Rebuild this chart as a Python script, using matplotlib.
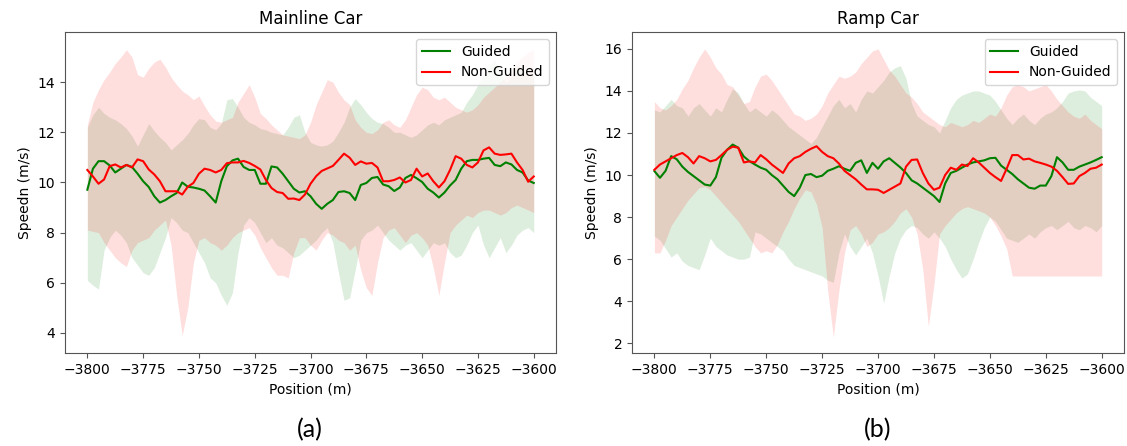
import numpy as np
import matplotlib
matplotlib.use("Agg")
import matplotlib.pyplot as plt

# ---------------- data ----------------
positions = np.linspace(-3800, -3600, 81)

# Mainline car
main_guided = [9.71, 10.55, 10.85, 10.85, 10.68, 10.4, 10.55, 10.7, 10.62, 10.35,
               10.05, 9.82, 9.45, 9.2, 9.3, 9.45, 9.58, 10.0, 9.83, 9.8,
               9.75, 9.68, 9.45, 9.2, 10.05, 10.65, 10.88, 10.95, 10.62, 10.5,
               10.5, 9.95, 9.95, 10.64, 10.6, 10.35, 10.05, 9.75, 9.6, 9.65,
               9.45, 9.15, 8.95, 9.15, 9.3, 9.62, 9.65, 9.58, 9.3, 9.9,
               9.98, 10.18, 10.22, 9.92, 9.85, 9.66, 9.8, 10.18, 10.3, 10.17,
               10.02, 9.75, 9.6, 9.4, 9.6, 9.88, 10.1, 10.55, 10.85, 10.9,
               10.9, 10.95, 10.98, 10.7, 10.65, 10.8, 10.72, 10.5, 10.4, 10.08,
               9.98]
main_nonguided = [10.5, 10.24, 9.95, 10.12, 10.65, 10.72, 10.6, 10.7, 10.6, 10.92,
                  10.85, 10.52, 10.32, 10.05, 9.65, 9.65, 9.65, 9.52, 9.83, 9.98,
                  10.35, 10.55, 10.5, 10.4, 10.5, 10.77, 10.8, 10.8, 10.86, 10.78,
                  10.66, 10.52, 10.1, 9.78, 9.62, 9.58, 9.35, 9.36, 9.3, 9.52,
                  9.95, 10.25, 10.46, 10.56, 10.66, 10.9, 11.15, 10.99, 10.7, 10.84,
                  10.75, 10.78, 10.6, 10.05, 10.05, 10.1, 10.2, 10.0, 10.1, 10.55,
                  10.24, 10.36, 10.05, 9.8, 10.05, 10.5, 11.05, 10.95, 10.7, 10.6,
                  10.8, 11.28, 11.4, 11.15, 11.1, 11.12, 11.15, 10.8, 10.5, 10.03,
                  10.24]
main_guided_upper = [12.2, 12.7, 13.0, 12.75, 12.6, 12.5, 12.35, 12.15, 11.85, 11.45,
                     11.9, 12.35, 12.05, 11.8, 11.6, 11.3, 11.5, 11.7, 11.95, 12.3,
                     12.55, 12.5, 12.2, 12.1, 12.35, 13.3, 13.35, 13.0, 12.6, 12.4,
                     12.3, 12.15, 12.1, 12.0, 11.95, 11.9, 12.2, 12.6, 12.7, 12.0,
                     11.6, 11.5, 11.45, 11.5, 11.65, 12.0, 12.4, 13.0, 13.35, 13.1,
                     12.8, 12.55, 12.4, 12.35, 12.2, 12.0, 12.0, 11.9, 11.8, 11.9,
                     12.1, 12.3, 12.4, 12.3, 12.5, 12.6, 12.7, 12.8, 13.2, 13.5,
                     13.9, 14.3, 14.6, 14.9, 14.3, 14.0, 14.2, 14.7, 14.5, 14.2,
                     14.3]
main_guided_lower = [6.1, 5.9, 5.75, 7.3, 7.8, 8.1, 7.9, 7.6, 7.0, 6.7,
                     6.4, 6.3, 6.6, 7.2, 7.8, 8.6, 8.4, 8.1, 8.0, 7.6,
                     7.2, 6.8, 6.2, 6.0, 5.5, 5.1, 5.6, 7.2, 8.3, 8.6,
                     8.4, 8.0, 7.6, 7.8, 7.5, 7.4, 7.2, 7.0, 7.1, 7.3,
                     7.5, 7.7, 8.0, 8.2, 7.6, 6.4, 5.3, 5.4, 6.5, 7.7,
                     8.0, 8.1, 8.3, 8.0, 7.7, 7.5, 7.3, 7.5, 7.6, 7.3,
                     7.0, 7.3, 7.6, 7.5, 7.6, 7.2, 7.0, 7.1, 7.5, 8.0,
                     8.3, 7.5, 7.0, 7.4, 7.8, 7.2, 7.5, 7.9, 8.1, 8.2,
                     8.0]
main_nonguided_upper = [12.3, 13.2, 13.7, 14.1, 14.4, 14.75, 15.0, 15.3, 15.0, 14.3,
                        14.2, 14.55, 14.8, 14.92, 14.6, 14.2, 13.9, 13.65, 13.5, 13.3,
                        13.45, 13.05, 12.7, 12.45, 12.4, 12.5, 12.6, 13.2, 13.55, 13.9,
                        13.4, 12.75, 12.55, 12.3, 12.1, 11.9, 11.85, 11.8, 11.75, 11.9,
                        12.4, 13.1, 13.6, 14.1, 14.0, 13.6, 13.3, 13.1, 12.5, 12.2,
                        12.0, 11.95, 12.1, 12.4, 12.5, 12.3, 12.2, 12.5, 13.0, 13.5,
                        13.8, 13.7, 13.4, 13.3, 13.4, 13.2, 13.0, 12.9, 12.8, 12.9,
                        13.1, 13.4, 13.6, 13.8, 14.0, 14.2, 14.5, 14.8, 15.0, 15.2,
                        15.3]
main_nonguided_lower = [8.1, 8.05, 8.0, 7.6, 7.3, 7.0, 6.8, 6.65, 7.3, 7.6,
                        7.7, 7.8, 8.1, 8.3, 8.5, 7.5, 5.5, 3.9, 5.0, 6.8,
                        7.7, 7.8, 7.6, 7.5, 7.3, 7.5, 7.8, 8.0, 8.1, 8.2,
                        7.9, 7.4, 7.0, 6.6, 6.3, 6.3, 6.2, 7.2, 7.8, 7.8,
                        7.5, 7.3, 7.7, 8.0, 7.9, 7.7, 7.6, 7.3, 7.5, 6.5,
                        5.8, 5.5, 6.8, 7.8, 8.1, 8.2, 7.9, 7.6, 7.9, 8.0,
                        7.8, 7.5, 6.6, 5.5, 6.8, 8.0, 8.3, 8.5, 8.7, 8.6,
                        8.8, 8.9, 8.9, 8.8, 8.7, 8.8, 9.0, 9.1, 9.0, 8.9,
                        8.8]

# Ramp car
ramp_guided = [10.19, 9.87, 10.2, 10.9, 10.75, 10.4, 10.15, 9.95, 9.75, 9.55,
               9.5, 9.9, 10.82, 11.2, 11.45, 11.3, 10.88, 10.66, 10.5, 10.35,
               10.25, 10.0, 9.8, 9.5, 9.2, 9.0, 9.4, 10.0, 10.05, 9.9,
               9.97, 10.2, 10.3, 10.42, 10.3, 10.2, 10.58, 10.7, 10.1, 10.58,
               10.3, 10.65, 10.8, 10.58, 10.36, 10.1, 9.75, 9.6, 9.4, 9.2,
               9.0, 8.72, 9.6, 10.1, 10.2, 10.35, 10.5, 10.6, 10.65, 10.7,
               10.8, 10.82, 10.45, 10.25, 10.05, 9.8, 9.6, 9.4, 9.35, 9.5,
               9.5, 9.95, 10.85, 10.6, 10.25, 10.25, 10.4, 10.5, 10.6, 10.72,
               10.85]
ramp_nonguided = [10.25, 10.5, 10.65, 10.8, 10.95, 11.05, 10.85, 10.55, 10.9, 10.8,
                  10.65, 10.72, 10.95, 11.2, 11.35, 11.3, 10.6, 10.65, 10.6, 10.95,
                  10.75, 10.5, 10.3, 10.1, 10.55, 10.8, 10.9, 11.1, 11.25, 11.37,
                  11.1, 10.9, 10.8, 10.55, 10.2, 10.0, 9.8, 9.55, 9.32, 9.32,
                  9.3, 9.15, 9.3, 9.45, 9.6, 10.4, 10.72, 10.74, 10.1, 9.6,
                  9.3, 9.4, 10.0, 10.35, 10.25, 10.5, 10.43, 10.8, 10.6, 10.35,
                  10.1, 9.9, 9.72, 10.3, 10.95, 10.95, 10.74, 10.78, 10.65, 10.58,
                  10.5, 10.4, 10.2, 9.9, 9.58, 9.6, 9.95, 10.1, 10.3, 10.35,
                  10.5]
ramp_guided_upper = [13.1, 13.0, 13.3, 13.6, 13.3, 13.2, 12.8, 13.2, 13.4, 13.1,
                     12.8, 13.2, 13.0, 13.6, 14.1, 13.9, 13.4, 13.0, 13.2, 13.0,
                     12.8, 13.1, 12.9, 12.6, 12.3, 12.1, 11.9, 11.7, 11.5, 11.8,
                     12.3, 12.8, 13.3, 13.6, 13.2, 13.4, 13.0, 13.6, 14.0, 13.9,
                     14.2, 14.5, 14.9, 15.1, 15.2, 14.6, 13.4, 12.8, 12.6, 12.4,
                     12.3, 12.0, 12.6, 13.2, 13.6, 13.8, 13.9, 14.0, 14.0, 13.9,
                     13.8, 13.5, 13.1, 12.7, 12.4, 12.7, 12.9, 12.6, 12.4, 12.7,
                     12.9, 13.0, 13.2, 13.5, 13.9, 14.0, 14.05, 14.0, 13.7, 13.5,
                     13.3]
ramp_guided_lower = [7.1, 6.9, 6.5, 6.1, 6.3, 5.9, 5.7, 5.6, 5.5, 6.2,
                     7.0, 6.6, 6.4, 6.2, 6.1, 6.0, 6.0, 6.1, 7.3, 7.2,
                     7.0, 6.8, 6.6, 6.4, 6.0, 5.7, 5.6, 5.5, 5.4, 5.3,
                     5.2, 5.0, 4.9, 6.3, 7.2, 6.6, 6.2, 6.6, 7.0, 6.3,
                     5.2, 3.9, 5.2, 6.3, 7.0, 7.4, 7.6, 7.5, 7.2, 7.0,
                     7.3, 7.0, 6.6, 6.0, 5.5, 5.1, 5.3, 6.0, 6.8, 7.5,
                     8.0, 7.8, 7.4, 7.0, 6.9, 6.8, 7.0, 7.2, 7.0, 7.3,
                     7.5, 7.6, 7.4, 7.6, 7.8, 7.5, 7.4, 7.6, 7.5, 7.3,
                     7.6]
ramp_nonguided_upper = [13.5, 13.2, 13.1, 13.3, 13.6, 14.1, 14.5, 15.1, 15.6, 16.0,
                        15.6, 15.1, 14.8, 14.3, 14.2, 13.8, 13.4, 13.5, 14.2, 14.7,
                        14.8, 14.5, 14.1, 13.7, 13.3, 12.9, 12.8, 12.6, 12.7, 12.9,
                        13.3, 13.9, 14.3, 14.7, 14.6, 14.7, 14.9, 15.3, 15.6, 15.9,
                        16.0, 15.5, 15.0, 14.7, 14.3, 13.9, 13.7, 13.4, 13.0, 12.8,
                        12.6, 12.4, 12.3, 12.5, 12.4, 12.3, 12.4, 12.6, 12.5, 12.7,
                        12.9, 12.8, 13.2, 13.8, 14.2, 14.3, 14.2, 14.0, 14.1, 14.2,
                        14.3, 14.0, 13.6, 13.3, 13.0, 12.8, 12.7, 12.9, 12.6, 12.4,
                        12.2]
ramp_nonguided_lower = [6.3, 6.3, 6.9, 7.6, 8.0, 8.4, 8.8, 9.1, 9.4, 9.45,
                        9.3, 9.0, 8.7, 8.4, 8.1, 7.8, 7.4, 7.0, 6.6, 6.3,
                        6.4, 6.3, 6.7, 7.3, 7.8, 8.4, 8.9, 9.3, 9.2, 8.6,
                        7.5, 4.5, 2.3, 4.5, 6.3, 7.4, 7.6, 7.2, 6.6, 6.8,
                        7.2, 7.3, 7.5, 7.8, 8.2, 8.4, 8.0, 7.2, 5.5, 2.8,
                        4.8, 7.2, 7.6, 7.9, 8.2, 8.4, 8.5, 8.4, 8.3, 8.2,
                        8.0, 7.6, 7.1, 6.5, 5.2, 5.2, 5.2, 5.2, 5.2, 5.2,
                        5.2, 5.2, 5.2, 5.2, 5.2, 5.2, 5.2, 5.2, 5.2, 5.2,
                        5.2]

xticks = [-3800, -3775, -3750, -3725, -3700, -3675, -3650, -3625, -3600]
titles = ["Mainline Car", "Ramp Car"]
captions = ["(a)", "(b)"]

# ---------------- figure ----------------
fig = plt.figure(figsize=(11.27, 4.46), dpi=100)
ax1 = fig.add_axes([0.0577, 0.2085, 0.4357, 0.7197])
ax2 = fig.add_axes([0.5608, 0.2085, 0.4366, 0.7197])

panels = [
    (ax1, main_guided, main_guided_lower, main_guided_upper,
     main_nonguided, main_nonguided_lower, main_nonguided_upper,
     [4, 6, 8, 10, 12, 14], (3.2, 16.0)),
    (ax2, ramp_guided, ramp_guided_lower, ramp_guided_upper,
     ramp_nonguided, ramp_nonguided_lower, ramp_nonguided_upper,
     [2, 4, 6, 8, 10, 12, 14, 16], (1.54, 16.8)),
]

for i, (ax, g, gl, gu, r, rl, ru, yt, yl) in enumerate(panels):
    ax.fill_between(positions, gl, gu, color="green", alpha=0.13, linewidth=0)
    ax.fill_between(positions, rl, ru, color="red", alpha=0.13, linewidth=0)
    ax.plot(positions, g, color="green", lw=1.5, label="Guided")
    ax.plot(positions, r, color="red", lw=1.5, label="Non-Guided")
    ax.set_xlim(-3810, -3590)
    ax.set_ylim(*yl)
    ax.set_xticks(xticks)
    ax.set_yticks(yt)
    ax.set_title(titles[i], fontsize=12)
    ax.set_xlabel("Position (m)", fontsize=10)
    ax.set_ylabel("Speedn (m/s)", fontsize=10)
    ax.tick_params(labelsize=10, color="#555555")
    for sp in ax.spines.values():
        sp.set_color("#555555")
    ax.legend(loc="upper right", fontsize=10)

fig.text(0.275, 0.036, captions[0], ha="center", va="center", fontsize=18,
         family=["Lato", "DejaVu Sans"])
fig.text(0.779, 0.036, captions[1], ha="center", va="center", fontsize=18,
         family=["Lato", "DejaVu Sans"])

fig.savefig("out.png", dpi=100)
